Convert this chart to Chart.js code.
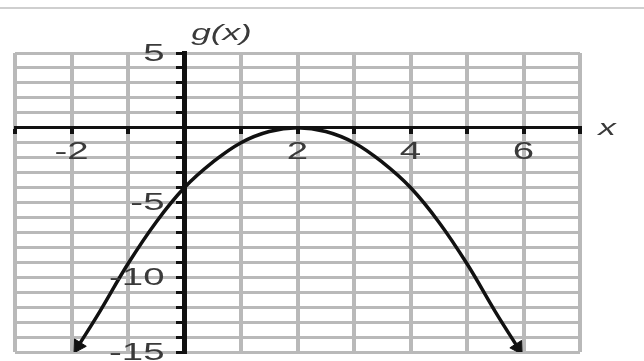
<!DOCTYPE html>
<html>
<head>
<meta charset="utf-8">
<script src="https://cdn.jsdelivr.net/npm/chart.js@4"></script>
<style>
    html, body { margin: 0; padding: 0; background: #fff; }
    #wrap { position: relative; width: 644px; height: 361px; }
    #rule { position: absolute; left: 0; top: 7px; width: 644px; height: 2px; background: #cfcfcf; }
    canvas { position: absolute; left: 0; top: 0; }
</style>
</head>
<body>
<div id="wrap">
    <div id="rule"></div>
    <canvas id="chart" width="644" height="361"></canvas>
</div>
<script>
// g(x)
const X_VALUES = [-1.88, -1.5, -1, -0.5, 0, 0.5, 1, 1.5, 2, 2.5, 3, 3.5, 4, 4.5, 5, 5.5, 5.9];
const G_VALUES = [-14.6, -12.3, -9.1, -6.3, -4.0, -2.3, -1.0, -0.25, 0, -0.25, -1.0, -2.3, -4.0, -6.3, -9.1, -12.3, -14.7];

const X_LABELS = [-2, 2, 4, 6];
const Y_LABELS = [5, -5, -10, -15];

const INK = '#3a3a3a';
const GRID = '#b9b9b9';
const FONT = 'Liberation Sans, Arial, sans-serif';
const STRETCH = 1.6;   // the scanned labels are wide

const points = X_VALUES.map((x, i) => ({ x, y: G_VALUES[i] }));

// arrowhead direction at the two ends of the curve
function arrowRotation(ctx) {
    const i = ctx.dataIndex, n = points.length;
    if (i !== 0 && i !== n - 1) return 0;
    const sx = ctx.chart.scales.x, sy = ctx.chart.scales.y;
    const a = points[i], b = points[i === 0 ? 1 : n - 2];
    const dx = sx.getPixelForValue(a.x) - sx.getPixelForValue(b.x);
    const dy = sy.getPixelForValue(a.y) - sy.getPixelForValue(b.y);
    return Math.atan2(dy, dx) * 180 / Math.PI + 90;
}

function wideText(ctx, txt, x, y, align) {
    ctx.save();
    ctx.translate(x, y);
    ctx.scale(STRETCH, 1);
    ctx.textAlign = align;
    ctx.fillText(txt, 0, 0);
    ctx.restore();
}

const axisLabels = {
    id: 'axisLabels',
    afterDraw(chart) {
        const { ctx, scales: { x, y } } = chart;
        const x0 = x.getPixelForValue(0), y0 = y.getPixelForValue(0);
        ctx.save();
        ctx.fillStyle = INK;
        ctx.textBaseline = 'middle';
        ctx.font = '24px ' + FONT;
        X_LABELS.forEach(v => wideText(ctx, String(v), x.getPixelForValue(v), y0 + 25, 'center'));
        Y_LABELS.forEach(v => wideText(ctx, String(v), x0 - 20, y.getPixelForValue(v) + 1, 'right'));
        ctx.font = 'italic 22px ' + FONT;
        wideText(ctx, 'g(x)', x0 + 37, y.getPixelForValue(5) - 19, 'center');
        wideText(ctx, 'x', x.getPixelForValue(7) + 27, y0 + 1, 'center');
        ctx.restore();
    }
};

new Chart(document.getElementById('chart'), {
    type: 'scatter',
    data: {
        datasets: [{
            data: points,
            showLine: true,
            borderColor: '#111',
            backgroundColor: '#111',
            borderWidth: 3.5,
            tension: 0.4,
            pointStyle: 'triangle',
            pointRadius: ctx => (ctx.dataIndex === 0 || ctx.dataIndex === points.length - 1) ? 8 : 0,
            pointRotation: arrowRotation,
            pointBorderWidth: 1
        }]
    },
    options: {
        responsive: false, animation: false,
        layout: { padding: { left: 15, right: 64, top: 53, bottom: 6 } },
        plugins: { legend: { display: false }, tooltip: { enabled: false } },
        scales: {
            x: {
                type: 'linear', min: -3, max: 7,
                position: { y: 0 },
                afterFit: s => { s.height = 0; },
                grid: { color: GRID, lineWidth: 4, tickLength: 5, tickColor: '#111', tickWidth: 4 },
                border: { display: true, color: '#111', width: 3 },
                ticks: { stepSize: 1, autoSkip: false, display: false }
            },
            y: {
                type: 'linear', min: -15, max: 5,
                position: { x: 0 },
                afterFit: s => { s.width = 0; },
                grid: { color: GRID, lineWidth: 3, tickLength: 6, tickColor: '#111', tickWidth: 3 },
                border: { display: true, color: '#111', width: 5 },
                ticks: { stepSize: 1, autoSkip: false, display: false }
            }
        }
    },
    plugins: [axisLabels]
});
</script>
</body>
</html>
